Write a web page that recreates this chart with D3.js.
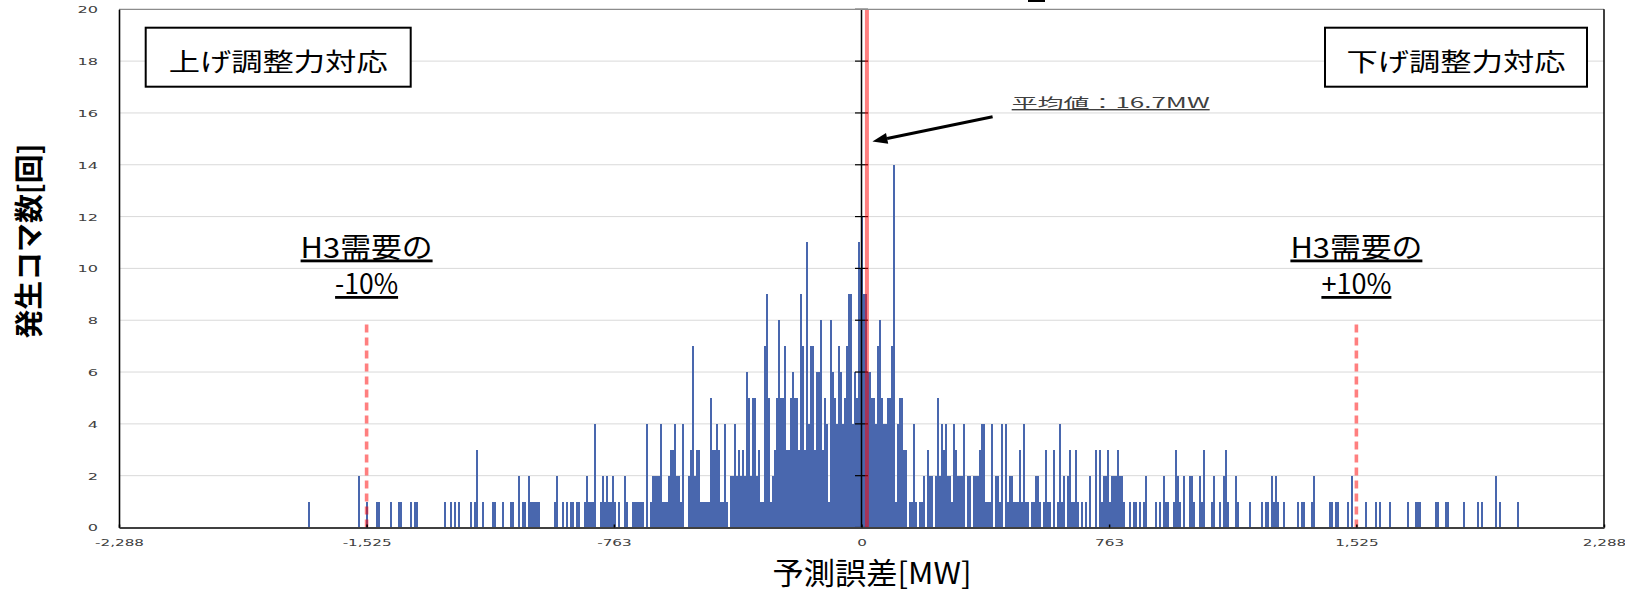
<!DOCTYPE html>
<head>
<meta charset="utf-8">
<title>予測誤差の分布</title>
<style>
   body {
      margin: 0;
      background: #fff;
   }
   svg {
      display: block;
   }
   .jp {
      font-family: "Noto Sans CJK JP", "Noto Sans", sans-serif;
   }
   .under {
      text-decoration: underline;
   }
</style>
</head>
<body>

<div id="chartDiv"></div>

<script src="https://d3js.org/d3.v7.min.js"></script>
<script>

   //   Data: counts per error bin, bin k covers [k*binWidth, (k+1)*binWidth) MW

   var binWidth = 6.16;

   var leftStart = -277;
   var leftCounts = [
      1,
      0,0,0,0,0,0,0,0,0,0,0,0,0,0,0,0,0,0,0,0,0,0,0,0,
      2,0,0,0,1,0,0,0,0,1,1,
      0,0,0,0,0,1,0,0,0,1,1,
      0,0,0,0,1,0,1,1,
      0,0,0,0,0,0,0,0,0,0,0,0,0,
      1,0,0,1,0,1,0,1,
      0,0,0,0,0,1,0,1,3,
      0,0,1,0,0,0,0,1,1,
      0,0,0,1,0,0,0,1,1,0,0,
      2,0,1,1,0,2,1,1,1,1,1,
      0,0,0,0,0,0,0,
      1,2,0,0,1,0,1,0,1,1,0,1,1,0,0,
      1,2,1,1,1,4,0,0
   ];

   var centerStart = -131;
   var centerCounts = [
      1,2,1,2,1,1,2,1,0,1,
      0,0,2,1,0,0,1,1,1,1,
      1,1,0,4,0,1,2,2,2,2,
      4,1,1,1,2,3,3,4,2,2,
      1,4,0,0,2,3,7,2,3,3,
      1,1,1,1,1,5,3,3,4,3,
      1,1,4,1,0,2,2,4,2,3,
      2,3,2,6,5,2,5,5,2,3,
      1,1,7,9,5,1,2,3,5,8,
      5,5,7,3,3,5,6,5,5,3,
      9,7,3,11,4,7,7,3,6,6,
      8,3,5,4,1,8,6,5,4,7,
      6,4,5,7,9,9,4,6,5,11,
      10,12,9,9,6,6,5,5,4,7,
      8,5,4,4,5,5,7,14,1,4,
      5,5,3,3,0,1,1,4,1,0,
      1,1,2,0,3,2,2,0,2,5,
      2,4,3,4,2,2,1,4,3,2
   ];

   var rightStart = 49;
   var rightCounts = [
      2,2,4,0,2,2,0,2,2,2,
      3,4,4,1,1,1,4,0,2,2,
      1,4,0,4,1,2,2,1,1,1,
      3,1,4,1,1,0,1,1,2,2,
      1,0,1,3,1,1,0,3,0,1,
      4,1,2,0,2,3,1,1,3,1,
      0,1,0,1,0,2,0,0,3,0,
      3,1,2,2,3,1
   ];

   var tailStart = 125;
   var tailCounts = [
      2,2,2,3,2,2,1,0,0,1,
      0,1,1,0,1,0,1,2,0,0,
      0,0,1,0,1,0,2,1,1,0,
      0,1,3,2,1,0,2,0,0,2,
      2,1,0,0,2,1,3,0,0,0,
      1,2,0,0,1,0,2,3,1,0,
      0,0,2,1,0,0,0,0,0,1,
      0,0,0,0,0,1,0,1,1,0,
      2,1,2,1,0,0,1,0,0,0,
      0,0,0,1,0,1,1,0,0,0,
      1,2,0,0,0,0,0,0,0,1,
      1,0,1,1,0,0,0,0,1,0,
      2,0,0,0,0,0,0,1,0,0,
      0,0,1,0,1,0,0,0,0,1,
      0,0,0,0,0,0,0,0,1,0,
      0,0,1,1,1,0,0,0,0,0,
      0,0,1,1,0,0,0,1,1,0,
      0,0,0,0,0,0,1,0,0,0,
      0,0,0,1,0,1,0,0,0,0,
      0,0,2,0,1,0,0,0,0,0,
      0,0,0,1
   ];

   var xTicks = [-2288, -1525, -763, 0, 763, 1525, 2288];
   var yTicks = [0, 2, 4, 6, 8, 10, 12, 14, 16, 18, 20];
   var meanValue = 16.7;
   var limitValues = [-1525, 1525];
   var limitLabels = ["-10%", "+10%"];
   var limitHeight = 8;

   //   Layout

   var width = 1625, height = 594;
   var plotLeft = 119, plotRight = 1604, plotTop = 9.3, plotBottom = 527.5;
   var barColor = "#4967ae";

   var svg = d3.select("#chartDiv")
     .append("svg")
       .attr("width", width)
       .attr("height", height);

   var x = d3.scaleLinear().domain([-2288, 2288]).range([plotLeft, plotRight]);
   var y = d3.scaleLinear().domain([0, 20]).range([plotBottom, plotTop]);

   var bins = [];
   function addSegment(start, counts) {
      counts.forEach(function(c, i) {
         if (c > 0) bins.push({k: start + i, count: c});
      });
   }
   addSegment(leftStart, leftCounts);
   addSegment(centerStart, centerCounts);
   addSegment(rightStart, rightCounts);
   addSegment(tailStart, tailCounts);

   //   Gridlines

   svg.append("g")
       .selectAll("line")
       .data(yTicks.filter(function(d) { return d > 0 && d < 20; }))
       .enter().append("line")
       .attr("x1", plotLeft)
       .attr("x2", plotRight)
       .attr("y1", function(d) { return y(d); })
       .attr("y2", function(d) { return y(d); })
       .attr("stroke", "#d9d9d9")
       .attr("stroke-width", 1);

   //   Bars

   svg.append("g")
       .attr("shape-rendering", "crispEdges")
       .selectAll("rect")
       .data(bins)
       .enter().append("rect")
       .attr("x", function(d) { return x(d.k * binWidth); })
       .attr("width", function(d) { return x((d.k + 1) * binWidth) - x(d.k * binWidth); })
       .attr("y", function(d) { return y(d.count); })
       .attr("height", function(d) { return y(0) - y(d.count); })
       .attr("fill", barColor);

   //   ±10% lines

   svg.append("g")
       .selectAll("line")
       .data(limitValues)
       .enter().append("line")
       .attr("x1", function(d) { return x(d); })
       .attr("x2", function(d) { return x(d); })
       .attr("y1", y(0))
       .attr("y2", y(limitHeight))
       .attr("stroke", "#ff0000")
       .attr("stroke-opacity", 0.5)
       .attr("stroke-width", 3.6)
       .attr("stroke-dasharray", "8,5");

   //   Zero axis with cross ticks

   svg.append("line")
       .attr("x1", x(0)).attr("x2", x(0))
       .attr("y1", y(0)).attr("y2", y(20))
       .attr("stroke", "#000")
       .attr("stroke-width", 1.5);

   svg.append("g")
       .selectAll("line")
       .data(yTicks)
       .enter().append("line")
       .attr("x1", x(0) - 6.5)
       .attr("x2", x(0) + 6.5)
       .attr("y1", function(d) { return y(d); })
       .attr("y2", function(d) { return y(d); })
       .attr("stroke", "#000")
       .attr("stroke-width", 1.2);

   //   Mean line

   svg.append("line")
       .attr("x1", x(meanValue)).attr("x2", x(meanValue))
       .attr("y1", y(0)).attr("y2", y(20))
       .attr("stroke", "#ff0000")
       .attr("stroke-opacity", 0.5)
       .attr("stroke-width", 4);

   //   Frame

   svg.append("line")
       .attr("x1", plotLeft).attr("x2", plotRight)
       .attr("y1", y(20)).attr("y2", y(20))
       .attr("stroke", "#8c8c8c")
       .attr("stroke-width", 1.2);

   svg.append("line")
       .attr("x1", plotRight).attr("x2", plotRight)
       .attr("y1", y(20)).attr("y2", y(0))
       .attr("stroke", "#000")
       .attr("stroke-width", 1.5);

   //   Axes

   var yAxis = svg.append("g")
       .attr("transform", "translate(" + plotLeft + ",0)")
       .call(d3.axisLeft(y).tickValues(yTicks).tickSize(0).tickPadding(0));

   yAxis.select(".domain")
       .attr("stroke", "#000")
       .attr("stroke-width", 1.6);

   yAxis.selectAll("text")
       .attr("x", -12.4)
       .attr("dy", "0.36em")
       .attr("transform", "scale(1.7,1)")
       .attr("font-family", "DejaVu Sans, sans-serif")
       .attr("font-size", 9.5)
       .attr("fill", "#404040");

   var fmt = d3.format(",");
   var xAxis = svg.append("g")
       .attr("transform", "translate(0," + plotBottom + ")")
       .call(d3.axisBottom(x)
          .tickValues(xTicks)
          .tickSizeInner(-3)
          .tickSizeOuter(0)
          .tickFormat(function(d) { return fmt(d).replace("\u2212", "-"); }));

   xAxis.select(".domain")
       .attr("stroke", "#404040")
       .attr("stroke-width", 2);

   xAxis.selectAll(".tick line")
       .attr("stroke", "#000")
       .attr("stroke-width", 1.5);

   xAxis.selectAll("text")
       .attr("y", 19)
       .attr("dy", null)
       .attr("transform", "scale(1.6,1)")
       .attr("font-family", "DejaVu Sans, sans-serif")
       .attr("font-size", 9.5)
       .attr("fill", "#404040");

   //   Axis titles

   svg.append("text")
       .attr("class", "jp")
       .attr("x", 872)
       .attr("y", 584)
       .attr("text-anchor", "middle")
       .attr("font-size", 30)
       .attr("textLength", 199)
       .attr("lengthAdjust", "spacingAndGlyphs")
       .text("予測誤差[MW]");

   svg.append("text")
       .attr("class", "jp")
       .attr("transform", "translate(40,241) rotate(-90)")
       .attr("text-anchor", "middle")
       .attr("font-size", 29)
       .attr("font-weight", "bold")
       .attr("textLength", 195)
       .attr("lengthAdjust", "spacingAndGlyphs")
       .text("発生コマ数[回]");

   //   Boxed side labels

   var boxes = [
      {x0: 145.7, x1: 410.7, text: "上げ調整力対応"},
      {x0: 1325, x1: 1587, text: "下げ調整力対応"}
   ];

   svg.append("g")
       .selectAll("rect")
       .data(boxes)
       .enter().append("rect")
       .attr("x", function(d) { return d.x0; })
       .attr("y", 27.7)
       .attr("width", function(d) { return d.x1 - d.x0; })
       .attr("height", 59)
       .attr("fill", "#fff")
       .attr("stroke", "#000")
       .attr("stroke-width", 2);

   svg.append("g")
       .selectAll("text")
       .data(boxes)
       .enter().append("text")
       .attr("class", "jp")
       .attr("x", function(d) { return (d.x0 + d.x1) / 2; })
       .attr("y", 70.5)
       .attr("text-anchor", "middle")
       .attr("font-size", 25)
       .attr("textLength", 219)
       .attr("lengthAdjust", "spacingAndGlyphs")
       .text(function(d) { return d.text; });

   //   ±10% labels, two lines in one text

   var limText = svg.append("g")
       .selectAll("text")
       .data(limitValues)
       .enter().append("text")
       .attr("class", "jp under")
       .attr("text-anchor", "middle")
       .attr("font-size", 28);

   limText.append("tspan")
       .attr("x", function(d) { return x(d); })
       .attr("y", 257.5)
       .attr("textLength", 132)
       .attr("lengthAdjust", "spacingAndGlyphs")
       .text("H3需要の");

   limText.append("tspan")
       .attr("x", function(d) { return x(d); })
       .attr("y", 294)
       .attr("textLength", function(d, i) { return i === 0 ? 63 : 70; })
       .attr("lengthAdjust", "spacingAndGlyphs")
       .text(function(d, i) { return limitLabels[i]; });

   //   Mean annotation

   svg.append("text")
       .attr("class", "jp under")
       .attr("x", 1011.7)
       .attr("y", 108)
       .attr("font-size", 14)
       .attr("fill", "#404040")
       .attr("textLength", 198)
       .attr("lengthAdjust", "spacingAndGlyphs")
       .text("平均値：" + meanValue + "MW");

   var start = [x(404), y(15.85)];
   var tip = [x(meanValue) + 5.5, y(14.9)];
   var dx = tip[0] - start[0], dy = tip[1] - start[1];
   var len = Math.sqrt(dx * dx + dy * dy);
   var ux = dx / len, uy = dy / len;
   var headLen = 15, headHalf = 5.5;
   var base = [tip[0] - ux * headLen, tip[1] - uy * headLen];

   svg.append("line")
       .attr("x1", start[0]).attr("y1", start[1])
       .attr("x2", base[0]).attr("y2", base[1])
       .attr("stroke", "#000")
       .attr("stroke-width", 3);

   svg.append("path")
       .attr("d", "M" + tip[0] + "," + tip[1] +
                  "L" + (base[0] - uy * headHalf) + "," + (base[1] + ux * headHalf) +
                  "L" + (base[0] + uy * headHalf) + "," + (base[1] - ux * headHalf) + "Z")
       .attr("fill", "#000");

   //   Cut-off mark at the top edge

   svg.append("rect")
       .attr("x", 1028)
       .attr("y", 0)
       .attr("width", 17)
       .attr("height", 2)
       .attr("fill", "#000");

</script>
</body>
